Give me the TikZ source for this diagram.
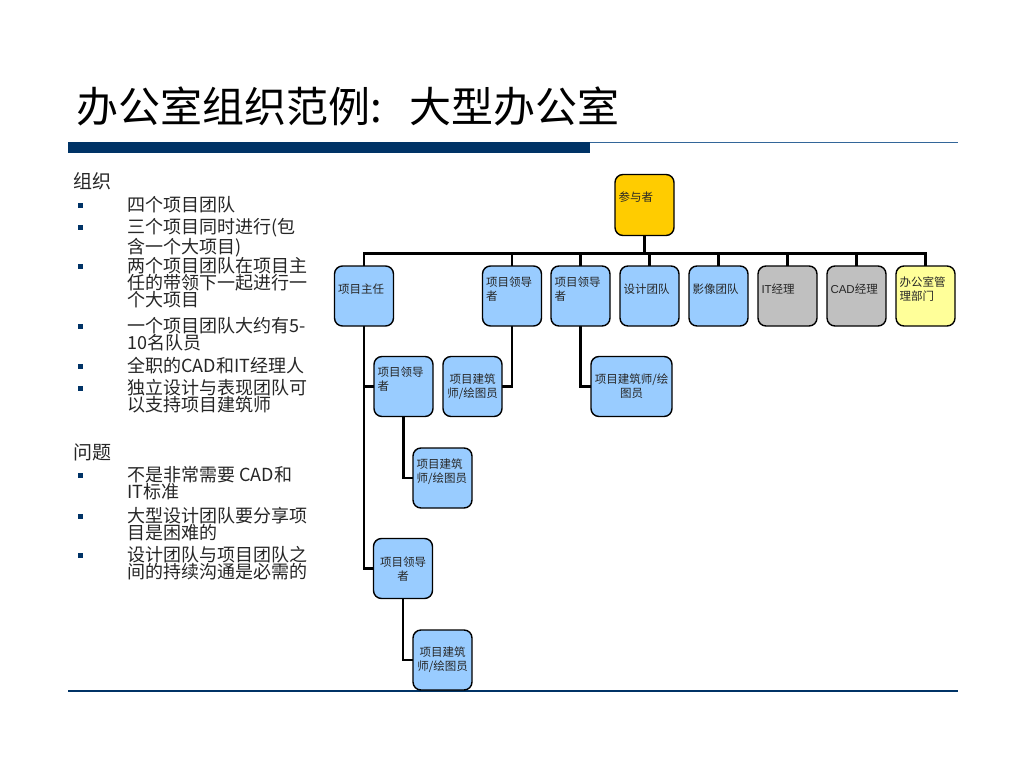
\documentclass[tikz,border=0pt]{standalone}
\usepackage{fontspec}
\setmainfont{Noto Sans CJK SC}
\newfontfamily\lat{Liberation Sans}
\usetikzlibrary{backgrounds}
\definecolor{navy}{HTML}{003366}
\definecolor{rule}{HTML}{336699}
\definecolor{boxblue}{HTML}{99CCFF}
\definecolor{boxgray}{HTML}{C0C0C0}
\definecolor{boxgold}{HTML}{FFCC00}
\definecolor{boxpale}{HTML}{FFFF99}
\definecolor{bodytext}{HTML}{262626}
\begin{document}
\begin{tikzpicture}[x=1pt,y=-1pt,
  box/.style={draw=black, line width=1.4pt, rounded corners=8pt,
    minimum width=59pt, minimum height=60pt, inner sep=0pt},
  conn/.style={draw=black, line width=2.6pt, line cap=rect},
  bt/.style={font=\fontsize{11.5}{14}\selectfont, text=black!85, inner sep=0pt, text width=52pt},
  btl/.style={bt, align=left},
  btc/.style={bt, align=center},
  body/.style={font=\fontsize{18}{17}\selectfont, text=bodytext, inner sep=0pt, anchor=north west, align=left},
  head/.style={font=\fontsize{19}{19}\selectfont, text=bodytext, inner sep=0pt, anchor=west},
  bullet/.style={fill=navy, minimum size=5pt, inner sep=0pt},
]
\useasboundingbox (0,0) rectangle (1024,768);

% title and rules
\node[anchor=west, inner sep=0pt, font=\fontsize{42}{42}\selectfont] (title) at (76,106) {办公室组织范例:\hspace{28pt}大型办公室};
\fill[navy] (68,142) rectangle (590,153);
\draw[rule, line width=1pt] (590,142.5) -- (958,142.5);
\draw[navy, line width=1.5pt] (68,691) -- (958,691);

% left text
\node[head] (h1) at (73,181) {组织};
\node[bullet] (b1) at (80,205) {};
\node[body] (t1) at (127,196) {四个项目团队};
\node[bullet] (b2) at (80,227) {};
\node[body] (t2) at (127,218) {三个项目同时进行(包\\含一个大项目)};
\node[bullet] (b3) at (80,266) {};
\node[body] (t3) at (127,257) {两个项目团队在项目主\\任的带领下一起进行一\\个大项目};
\node[bullet] (b4) at (80,326) {};
\node[body] (t4) at (127,317) {一个项目团队大约有5-\\10名队员};
\node[bullet] (b5) at (80,366) {};
\node[body] (t5) at (127,357) {全职的CAD和IT经理人};
\node[bullet] (b6) at (80,388) {};
\node[body] (t6) at (127,379) {独立设计与表现团队可\\以支持项目建筑师};

\node[head] (h2) at (73,452) {问题};
\node[bullet] (b7) at (80,475) {};
\node[body] (t7) at (127,466) {不是非常需要 CAD和\\IT标准};
\node[bullet] (b8) at (80,516) {};
\node[body] (t8) at (127,507) {大型设计团队要分享项\\目是困难的};
\node[bullet] (b9) at (80,555) {};
\node[body] (t9) at (127,546) {设计团队与项目团队之\\间的持续沟通是必需的};

% org chart boxes
\node[box, fill=boxgold, minimum height=61pt] (cy) at (644.5,205) {};
\node[box, fill=boxblue] (zr) at (364,296) {};
\node[box, fill=boxblue] (l1) at (512,296) {};
\node[box, fill=boxblue] (l2) at (580.5,296) {};
\node[box, fill=boxblue] (sj) at (649.5,296) {};
\node[box, fill=boxblue] (yx) at (718.5,296) {};
\node[box, fill=boxgray] (it) at (787.5,296) {};
\node[box, fill=boxgray] (cad) at (856.5,296) {};
\node[box, fill=boxpale] (bg) at (925.5,296) {};
\node[box, fill=boxblue] (l3) at (403.5,386.5) {};
\node[box, fill=boxblue] (a1) at (472.5,386.5) {};
\node[box, fill=boxblue, minimum width=81pt] (a2) at (631.5,386.5) {};
\node[box, fill=boxblue] (a3) at (442.5,478) {};
\node[box, fill=boxblue] (l4) at (403,568.5) {};
\node[box, fill=boxblue] (a4) at (442.5,660) {};

% box texts
\node[btl] (cyt) at ([yshift=8pt]cy.center) {参与者};
\node[btl] (zrt) at ([yshift=7pt]zr.center) {项目主任};
\node[btl] (l1t) at ([yshift=7pt]l1.center) {项目领导\\者};
\node[btl] (l2t) at ([yshift=7pt]l2.center) {项目领导\\者};
\node[btl] (sjt) at ([yshift=7pt]sj.center) {设计团队};
\node[btl] (yxt) at ([yshift=7pt]yx.center) {影像团队};
\node[btl] (itt) at ([yshift=7pt]it.center) {{\lat IT}经理};
\node[btl] (cadt) at ([yshift=7pt]cad.center) {{\lat CAD}经理};
\node[btl] (bgt) at ([yshift=7pt]bg.center) {办公室管\\理部门};
\node[btl] (l3t) at ([yshift=7pt]l3.center) {项目领导\\者};
\node[btc] (a1t) at (a1.center) {项目建筑\\师/绘图员};
\node[btc, text width=76pt] (a2t) at (a2.center) {项目建筑师/绘\\图员};
\node[btl] (a3t) at ([yshift=6pt]a3.center) {项目建筑\\师/绘图员};
\node[btc] (l4t) at ([yshift=-1pt]l4.center) {项目领导\\者};
\node[btc] (a4t) at (a4.center) {项目建筑\\师/绘图员};

% connectors
\begin{scope}[on background layer]
\fill[white] (0,0) rectangle (1024,768);
\foreach \c in {zr,l1,l2,sj,yx,it,cad,bg}
  \draw[conn] (cy.south) -- ++(0,17) -| (\c.north);
\draw[conn] (zr.south) |- (l3.west);
\draw[conn] (zr.south) |- (l4.west);
\draw[conn] (l1.south) |- (a1.east);
\draw[conn] (l2.south) |- (a2.west);
\draw[conn] (l3.south) |- (a3.west);
\draw[conn] (l4.south) |- (a4.west);
\end{scope}
\end{tikzpicture}
\end{document}
